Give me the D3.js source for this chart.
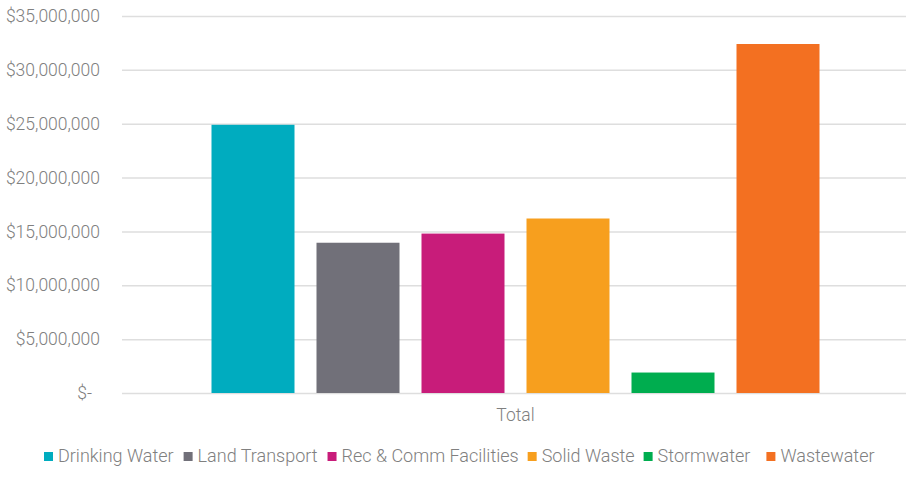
<!DOCTYPE html>
<html>
<head>
<meta charset="utf-8">
<script src="https://cdn.jsdelivr.net/npm/d3@7"></script>
<style>
  body { margin: 0; background: #fff; }
  text { font-family: Roboto, "Noto Sans", sans-serif; font-weight: 300; fill: #808080; }
</style>
</head>
<body>
<div class="chart"></div>
<script>
const categories = ['Total']
const series = ['Drinking Water', 'Land Transport', 'Rec & Comm Facilities', 'Solid Waste', 'Stormwater', 'Wastewater']
const values = [24900000, 13950000, 14800000, 16200000, 1900000, 32400000]
const colors = ['#00acbf', '#717079', '#c81c7a', '#f79f1e', '#00ad4f', '#f37021']
const yTicks = [0, 5000000, 10000000, 15000000, 20000000, 25000000, 30000000, 35000000]

const width = 906
const height = 478
const margin = { top: 16, right: 0, bottom: 85, left: 122 }

const svg = d3.select('.chart')
  .append('svg')
  .attr('width', width)
  .attr('height', height)

const yScale = d3.scaleLinear()
  .domain([0, 35000000])
  .range([height - margin.bottom, margin.top])

const x0 = d3.scaleBand()
  .domain(categories)
  .range([margin.left, width + 3])
  .paddingOuter(0.1472)
  .paddingInner(0)

const x1 = d3.scaleBand()
  .domain(series)
  .range([0, x0.bandwidth()])
  .paddingInner(0.2095)
  .paddingOuter(0)

const money = d3.format(',')
const yAxis = d3.axisLeft(yScale)
  .tickValues(yTicks)
  .tickSize(-(width - margin.left - margin.right))
  .tickPadding(22)
  .tickFormat(d => d === 0 ? '$-' : '$' + money(d))

const gy = svg.append('g')
  .attr('transform', 'translate(' + margin.left + ',0)')
  .call(yAxis)
gy.select('.domain').remove()
gy.selectAll('.tick line').attr('stroke', '#dedede').attr('stroke-width', 1.5)
gy.selectAll('.tick text')
  .style('font-size', '17.5px')
  .attr('dx', d => d === 0 ? -8 : 0)

// bars
const group = svg.selectAll('.group')
  .data(categories)
  .enter()
  .append('g')
  .attr('transform', d => 'translate(' + x0(d) + ',0)')

group.selectAll('rect')
  .data(series.map((s, i) => ({ name: s, value: values[i], color: colors[i] })))
  .enter()
  .append('rect')
  .attr('x', d => x1(d.name))
  .attr('y', d => yScale(d.value))
  .attr('width', x1.bandwidth())
  .attr('height', d => yScale(0) - yScale(d.value))
  .attr('fill', d => d.color)

// category label
svg.selectAll('.cat')
  .data(categories)
  .enter()
  .append('text')
  .attr('x', d => x0(d) + x0.bandwidth() / 2)
  .attr('y', 421)
  .attr('text-anchor', 'middle')
  .style('font-size', '17.5px')
  .text(d => d)

// legend
const gaps = [10, 10, 9, 9, 16]
const legend = svg.append('g').attr('transform', 'translate(44,452)')
let lx = 0
series.forEach((s, i) => {
  const item = legend.append('g').attr('transform', 'translate(' + lx + ',0)')
  item.append('rect')
    .attr('width', 9)
    .attr('height', 9)
    .attr('fill', colors[i])
  const t = item.append('text')
    .attr('x', 14)
    .attr('y', 10)
    .style('font-size', '18px')
    .text(s)
  lx += 14 + t.node().getComputedTextLength() + (gaps[i] || 0)
})
</script>
</body>
</html>
